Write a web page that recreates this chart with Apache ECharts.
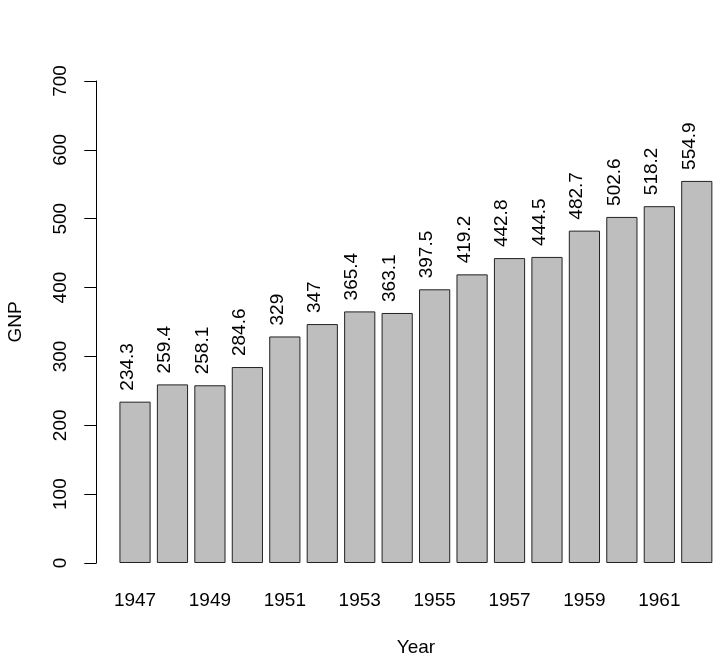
<!DOCTYPE html>
<html>
<head>
<meta charset="utf-8">
<script src="https://cdn.jsdelivr.net/npm/echarts@6/dist/echarts.min.js"></script>
<style>html,body{margin:0;padding:0;background:#fff}#c{width:727px;height:663px}</style>
</head>
<body>
<div id="c"></div>
<script>
var years = ['1947','1948','1949','1950','1951','1952','1953','1954','1955','1956','1957','1958','1959','1960','1961','1962'];
var gnp = [234.3, 259.4, 258.1, 284.6, 329, 347, 365.4, 363.1, 397.5, 419.2, 442.8, 444.5, 482.7, 502.6, 518.2, 554.9];
var yTicks = [0, 100, 200, 300, 400, 500, 600, 700];

var FONT = '"Liberation Sans", Arial, sans-serif';
var FS = 19;
var chart = echarts.init(document.getElementById('c'), null, {renderer: 'canvas'});
chart.setOption({
  animation: false,
  backgroundColor: '#ffffff',
  textStyle: {fontFamily: FONT},
  grid: {left: 116.3, right: 11.5, top: 81, bottom: 100, containLabel: false, outerBoundsMode: 'none'},
  xAxis: {
    type: 'category',
    data: years,
    name: 'Year',
    nameLocation: 'middle',
    nameGap: 75,
    nameTextStyle: {fontFamily: FONT, fontSize: FS, color: '#000'},
    axisLine: {show: false},
    axisTick: {show: false},
    axisLabel: {interval: 1, margin: 28, fontFamily: FONT, fontSize: FS, color: '#000'},
    splitLine: {show: false}
  },
  yAxis: {
    type: 'value',
    min: yTicks[0],
    max: yTicks[yTicks.length - 1],
    interval: 100,
    offset: 20,
    name: 'GNP',
    nameLocation: 'middle',
    nameGap: 71,
    nameRotate: 90,
    nameTextStyle: {fontFamily: FONT, fontSize: FS, color: '#000'},
    axisLine: {show: true, lineStyle: {color: '#000', width: 1}},
    axisTick: {show: true, length: 12, lineStyle: {color: '#000', width: 1}},
    axisLabel: {rotate: 90, margin: 26, fontFamily: FONT, fontSize: FS, color: '#000'},
    splitLine: {show: false}
  },
  series: [{
    type: 'bar',
    data: gnp,
    barCategoryGap: '16.7%',
    itemStyle: {color: '#BEBEBE', borderColor: '#222', borderWidth: 1},
    label: {
      show: true,
      position: 'top',
      distance: 11,
      rotate: 90,
      align: 'left',
      verticalAlign: 'bottom',
      lineHeight: 15,
      fontFamily: FONT,
      fontSize: FS,
      color: '#000',
      formatter: function (p) { return String(p.value); }
    }
  }]
});
</script>
</body>
</html>
